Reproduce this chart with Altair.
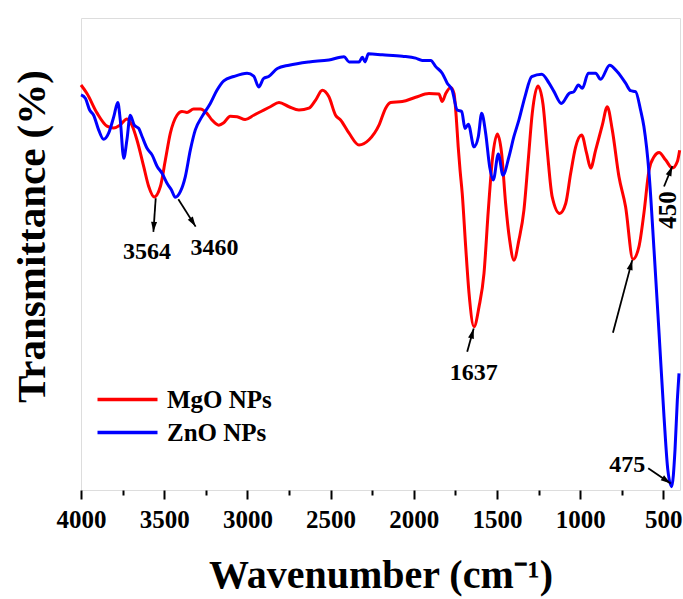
import math
import altair as alt
import pandas as pd

# ---------------- data ----------------
mgo_wn = [4000, 3964, 3904, 3844, 3803, 3766, 3724, 3694, 3664, 3623,
          3593, 3560, 3523, 3493, 3463, 3423, 3393, 3363, 3323, 3283,
          3243, 3213, 3172, 3142, 3103, 3062, 3013, 2962, 2902, 2862,
          2810, 2750, 2690, 2630, 2590, 2550, 2510, 2470, 2440, 2389,
          2329, 2269, 2209, 2169, 2139, 2069, 1989, 1909, 1849, 1829,
          1808, 1778, 1758, 1745, 1733, 1722, 1709, 1688, 1668, 1638,
          1608, 1578, 1552, 1528, 1498, 1472, 1448, 1424, 1398, 1368,
          1338, 1312, 1288, 1254, 1224, 1198, 1168, 1123, 1087, 1057,
          1027, 991, 961, 937, 907, 867, 837, 807, 767, 727,
          683, 647, 617, 586, 556, 526, 486, 446, 416, 402]
mgo_t = [85.8, 84.0, 79.9, 77.1, 76.7, 77.3, 78.6, 77.3, 74.2, 68.5,
         64.3, 62.1, 64.3, 69.9, 75.6, 79.4, 80.2, 80.0, 80.7, 80.7,
         79.8, 78.4, 77.3, 77.8, 79.2, 79.1, 78.5, 79.4, 80.5, 81.2,
         82.1, 81.2, 80.5, 80.9, 82.6, 84.7, 83.3, 79.4, 78.4, 75.6,
         73.1, 74.2, 77.3, 80.9, 82.1, 82.3, 83.2, 84.0, 83.9, 82.3,
         84.0, 85.3, 84.0, 79.1, 72.7, 67.8, 62.9, 51.5, 41.7, 34.6,
         38.8, 45.9, 59.3, 69.9, 75.4, 71.3, 60.7, 53.0, 48.7, 53.0,
         59.3, 69.9, 79.8, 85.6, 81.9, 72.0, 62.1, 58.6, 60.7, 67.1,
         72.7, 75.2, 71.3, 68.2, 72.0, 77.3, 81.2, 76.3, 66.4, 60.0,
         48.9, 51.5, 58.6, 67.8, 70.6, 71.5, 69.9, 68.2, 69.6, 72.0]

zno_wn = [4000, 3974, 3948, 3924, 3894, 3864, 3834, 3803, 3779, 3764,
          3743, 3724, 3704, 3680, 3653, 3633, 3603, 3573, 3543, 3513,
          3483, 3457, 3433, 3403, 3373, 3343, 3313, 3273, 3223, 3183,
          3142, 3082, 3002, 2962, 2932, 2902, 2872, 2820, 2750, 2630,
          2510, 2419, 2389, 2329, 2309, 2293, 2273, 2189, 2069, 1989,
          1949, 1898, 1868, 1829, 1799, 1769, 1739, 1712, 1692, 1672,
          1638, 1612, 1592, 1568, 1544, 1522, 1492, 1464, 1428, 1398,
          1368, 1332, 1291, 1231, 1187, 1157, 1113, 1067, 1037, 1011,
          987, 951, 907, 877, 823, 777, 727, 697, 667, 637,
          617, 586, 556, 526, 496, 473, 450, 430, 416, 406]
zno_t = [83.7, 83.0, 80.5, 79.4, 76.3, 74.3, 75.6, 79.1, 82.1, 78.4,
         70.3, 74.2, 79.4, 77.3, 76.6, 74.9, 72.4, 71.0, 68.6, 67.1,
         65.0, 63.6, 62.0, 63.2, 66.4, 72.0, 76.3, 79.1, 81.9, 84.7,
         86.7, 87.6, 88.3, 87.7, 85.4, 87.2, 87.6, 89.3, 90.0, 90.7,
         91.1, 91.8, 90.7, 90.7, 91.7, 90.7, 92.4, 92.2, 91.9, 91.5,
         91.0, 91.0, 89.7, 88.3, 86.2, 84.7, 80.5, 80.2, 76.6, 77.5,
         72.7, 74.9, 79.8, 75.6, 68.5, 65.7, 71.2, 66.7, 70.6, 74.9,
         78.4, 83.3, 87.6, 88.1, 86.2, 84.4, 81.9, 84.0, 84.4, 85.8,
         85.1, 88.3, 88.3, 87.0, 90.0, 88.6, 86.2, 84.6, 84.4, 80.5,
         77.0, 67.1, 50.8, 33.3, 15.5, 4.2, 0.7, 8.5, 19.1, 24.7]

series_names = ["MgO NPs", "ZnO NPs"]
series_colors = ["#ff0000", "#0000ff"]

x_ticks = list(range(500, 4001, 250))

# annotation arrows (tail -> head, in data units)
arrow_tail_wn = [3551, 3415, 1679, 803, 496, 591]
arrow_tail_t = [61.8, 61.6, 29.3, 33.3, 64.3, 4.6]
arrow_head_wn = [3565, 3311, 1640, 687, 446, 456]
arrow_head_t = [54.7, 55.8, 34.2, 48.7, 68.6, 1.4]

label_text = ["3564", "3460", "1637", "475"]
label_wn = [3603, 3197, 1640, 717]
label_t = [50.5, 51.2, 24.8, 5.3]

rot_text = ["450"]
rot_wn = [470]
rot_t = [59.3]

# ---------------- layout constants ----------------
W, H = 599, 472
X_MIN, X_MAX = 400, 4000
Y_MIN, Y_MAX = 0, 100
FONT = "Liberation Serif"

rows = []
for wn, t in zip(mgo_wn, mgo_t):
    rows.append({"wn": wn, "t": t, "series": series_names[0]})
for wn, t in zip(zno_wn, zno_t):
    rows.append({"wn": wn, "t": t, "series": series_names[1]})
df = pd.DataFrame(rows)

# arrowheads: oriented triangles, centre pulled back half a head length
px_x = W / (X_MAX - X_MIN)
px_y = H / (Y_MAX - Y_MIN)
heads = []
for tw, tt, hw, ht in zip(arrow_tail_wn, arrow_tail_t, arrow_head_wn, arrow_head_t):
    dx = -(hw - tw) * px_x
    dy = -(ht - tt) * px_y
    L = math.hypot(dx, dy)
    ux, uy = dx / L, dy / L
    ang = math.degrees(math.atan2(ux, -uy)) % 360
    back = 5.0
    cw = hw + back * ux / px_x
    ct = ht + back * uy / px_y
    heads.append({"wn": cw, "t": ct, "angle": ang})
df_heads = pd.DataFrame(heads)

df_arrows = pd.DataFrame({"wn": arrow_tail_wn, "t": arrow_tail_t,
                          "wn2": arrow_head_wn, "t2": arrow_head_t})
df_labels = pd.DataFrame({"wn": label_wn, "t": label_t, "text": label_text})
df_rot = pd.DataFrame({"wn": rot_wn, "t": rot_t, "text": rot_text})

x_scale = alt.Scale(domain=[X_MIN, X_MAX], reverse=True, nice=False, zero=False)
y_scale = alt.Scale(domain=[Y_MIN, Y_MAX], nice=False, zero=False)

x_axis = alt.Axis(
    values=x_ticks, format="d",
    labelExpr="datum.value % 500 === 0 ? datum.label : ''",
    tickSize={"condition": {"test": "datum.value % 500 === 0", "value": 9}, "value": 5},
    tickWidth=2, tickColor="black", domain=False, grid=False,
    labelFont=FONT, labelFontWeight="bold", labelFontSize=25, labelColor="black",
    labelPadding=8, labelOverlap=False, labelFlush=False,
    title="Wavenumber (cm⁻¹)", titleFont=FONT, titleFontWeight="bold",
    titleFontSize=40, titleColor="black", titleY=97, titleBaseline="alphabetic",
)
y_axis = alt.Axis(
    labels=False, ticks=False, domain=False, grid=False,
    title="Transmittance (%)", titleFont=FONT, titleFontWeight="bold",
    titleFontSize=41, titleColor="black", titleAngle=270,
    titleX=-49, titleY=218, titleAlign="center", titleBaseline="middle",
)

lines = alt.Chart(df).mark_line(strokeWidth=3, interpolate="monotone").encode(
    x=alt.X("wn:Q", scale=x_scale, axis=x_axis),
    y=alt.Y("t:Q", scale=y_scale, axis=y_axis),
    color=alt.Color(
        "series:N",
        scale=alt.Scale(domain=series_names, range=series_colors),
        legend=alt.Legend(
            title=None, orient="none", legendX=34, legendY=369,
            symbolType="M-3,0H3", symbolSize=400, symbolStrokeWidth=3.5,
            labelFont=FONT, labelFontSize=25, labelFontWeight="bold",
            labelColor="black", labelOffset=27, rowPadding=7, padding=0,
        ),
    ),
)

arrows = alt.Chart(df_arrows).mark_rule(color="black", strokeWidth=1.8).encode(
    x="wn:Q", y="t:Q", x2="wn2:Q", y2="t2:Q"
)

arrowheads = alt.Chart(df_heads).mark_point(
    shape="M0,-1L0.6,1L-0.6,1Z", filled=True, color="black", opacity=1, size=100
).encode(
    x="wn:Q", y="t:Q", angle=alt.Angle("angle:Q", scale=None)
)

labels = alt.Chart(df_labels).mark_text(
    font=FONT, fontWeight="bold", fontSize=24, color="black",
    align="center", baseline="middle"
).encode(x="wn:Q", y="t:Q", text="text:N")

rot_labels = alt.Chart(df_rot).mark_text(
    font=FONT, fontWeight="bold", fontSize=25, color="black",
    align="center", baseline="middle", angle=270
).encode(x="wn:Q", y="t:Q", text="text:N")

chart = alt.layer(lines, arrows, arrowheads, labels, rot_labels).properties(
    width=W, height=H, autosize="none",
    padding={"left": 81, "top": 18, "right": 3, "bottom": 109},
).configure_view(stroke="black", strokeWidth=2.5).configure(background="white")

chart.save("out.html", embed_options={"renderer": "svg", "actions": False})
